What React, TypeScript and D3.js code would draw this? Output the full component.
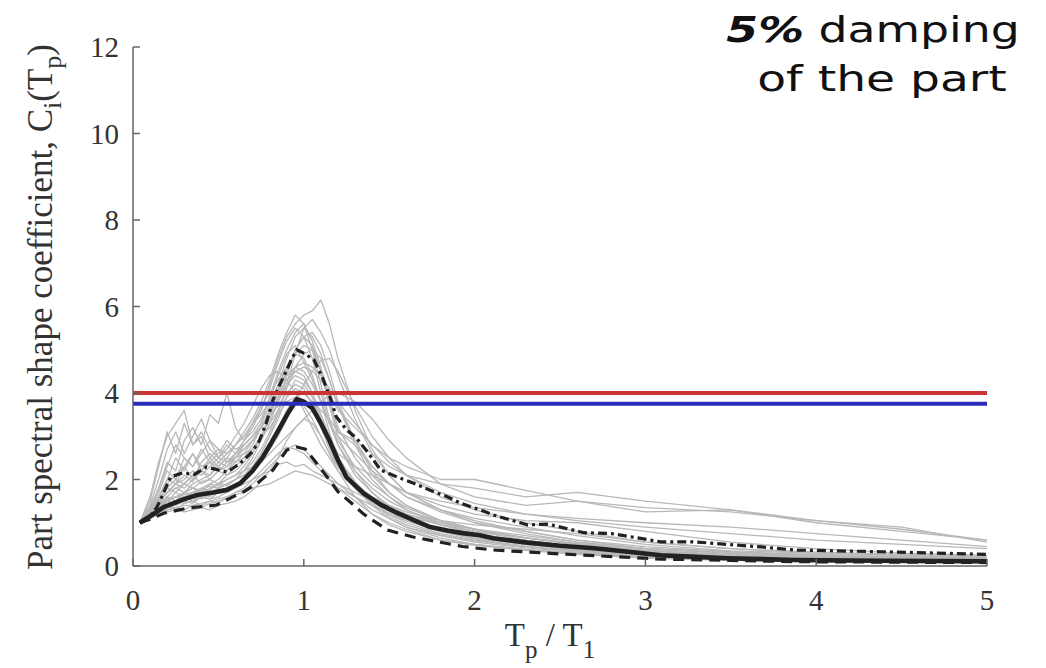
import React from "react";
import * as d3 from "d3";

// shared Tp/T1 grid for the individual records
const gridX = [0.04, 0.1, 0.15, 0.2, 0.25, 0.3, 0.35, 0.4, 0.45, 0.5, 0.55, 0.6, 0.65, 0.7, 0.75, 0.8, 0.85, 0.9, 0.95, 1.0, 1.05, 1.1, 1.15, 1.2, 1.3, 1.4, 1.5, 1.6, 1.8, 2.0, 2.3, 2.6, 3.0, 3.5, 4.0, 4.5, 5.0];

const records: number[][] = [
  [1.0,1.5,2.3,3.1,2.6,3.3,2.8,3.0,2.5,2.7,2.4,2.6,2.9,3.2,3.6,4.1,4.7,5.2,5.5,5.3,4.8,4.0,3.3,2.8,2.2,1.8,1.5,1.3,1.0,0.8,0.6,0.45,0.3,0.22,0.17,0.14,0.12],
  [1.0,1.2,1.5,1.7,1.9,1.8,2.0,2.2,2.1,2.4,2.3,2.6,2.9,3.3,3.6,4.2,4.8,5.3,5.6,5.8,5.9,6.15,5.6,4.8,3.6,2.7,2.1,1.7,1.3,1.0,0.75,0.55,0.4,0.3,0.22,0.18,0.15],
  [1.0,1.2,1.3,1.4,1.5,1.45,1.5,1.6,1.55,1.6,1.7,1.8,1.9,2.0,2.1,2.2,2.35,2.4,2.3,2.35,2.2,2.1,2.0,1.9,1.7,1.5,1.35,1.2,1.0,0.85,0.7,0.55,0.4,0.3,0.25,0.2,0.18],
  [1.0,1.3,1.8,2.4,2.2,2.9,3.2,2.8,3.5,3.3,4.0,3.2,2.9,3.1,3.4,3.8,4.4,4.9,5.1,4.7,4.3,3.8,3.3,3.0,2.6,2.2,1.9,1.6,1.3,1.1,0.9,0.7,0.5,0.35,0.3,0.25,0.2],
  [1.0,1.2,1.4,1.6,1.5,1.7,1.8,1.7,1.9,2.0,2.2,2.4,2.5,2.7,2.9,3.3,3.6,3.9,4.1,4.0,3.8,3.6,3.4,3.1,2.9,2.6,2.3,2.1,1.9,1.8,1.6,1.7,1.5,1.3,1.0,0.8,0.6],
  [1.0,1.3,1.6,2.0,2.5,2.2,2.6,2.3,2.4,2.2,2.3,2.5,2.8,3.0,3.3,3.9,4.5,5.0,5.4,5.6,5.2,4.6,3.9,3.2,2.5,2.0,1.6,1.3,0.95,0.75,0.55,0.4,0.28,0.2,0.15,0.12,0.1],
  [1.0,1.1,1.25,1.3,1.35,1.3,1.4,1.35,1.45,1.5,1.55,1.7,1.8,2.0,2.2,2.4,2.6,2.75,2.7,2.6,2.4,2.2,2.0,1.8,1.5,1.2,1.0,0.85,0.6,0.5,0.38,0.3,0.2,0.15,0.12,0.1,0.08],
  [1.0,1.4,2.0,2.7,3.1,2.6,3.0,3.4,2.9,2.7,2.6,2.8,3.0,3.3,3.7,4.0,4.3,4.6,4.9,5.1,5.0,4.5,3.8,3.1,2.8,2.3,1.9,1.7,1.4,1.2,1.05,1.0,0.8,0.55,0.4,0.3,0.25],
  [1.0,1.2,1.4,1.5,1.7,1.6,1.7,1.8,1.75,1.9,2.0,2.1,2.3,2.6,3.0,3.5,4.1,4.6,4.9,4.8,4.4,3.8,3.1,2.5,1.9,1.5,1.2,1.0,0.75,0.6,0.45,0.35,0.25,0.18,0.14,0.12,0.1],
  [1.0,1.25,1.5,1.8,1.7,1.9,2.1,1.9,2.0,2.2,2.1,2.3,2.5,2.8,3.2,3.6,4.0,4.5,5.0,5.3,5.4,5.1,4.5,3.8,2.9,2.2,1.7,1.4,1.05,0.85,0.65,0.5,0.35,0.25,0.2,0.16,0.13],
  [1.0,1.1,1.3,1.5,1.4,1.6,1.5,1.7,1.6,1.8,1.9,2.0,2.1,2.3,2.6,3.0,3.5,4.2,4.9,5.5,5.7,5.4,5.0,4.4,3.4,2.6,2.1,1.7,1.3,1.05,0.8,0.6,0.4,0.3,0.22,0.18,0.15],
  [1.0,1.6,2.4,3.0,3.3,3.6,2.8,3.1,2.7,2.5,2.8,2.6,2.7,2.9,3.2,3.5,3.9,4.2,4.4,4.3,4.0,3.5,3.0,2.6,2.3,2.1,1.9,1.7,1.5,1.35,1.2,1.1,1.0,0.9,0.75,0.6,0.45],
  [1.0,1.15,1.3,1.4,1.3,1.45,1.5,1.4,1.5,1.45,1.6,1.7,1.75,1.9,2.1,2.3,2.5,2.7,2.8,2.7,2.5,2.3,2.1,1.9,1.6,1.3,1.1,0.9,0.7,0.55,0.42,0.32,0.22,0.16,0.13,0.1,0.08],
  [1.0,1.3,1.7,2.2,2.0,2.5,2.3,2.7,2.4,2.6,2.9,2.7,2.8,3.0,3.3,3.7,4.2,4.8,5.3,5.5,5.3,4.9,4.3,3.7,2.9,2.3,1.9,1.6,1.25,1.0,0.8,0.6,0.45,0.33,0.26,0.2,0.17],
  [1.0,1.2,1.5,1.7,1.9,2.0,2.2,2.1,2.3,2.5,2.7,3.0,3.3,3.7,4.1,4.4,4.5,4.3,4.0,3.6,3.2,2.8,2.5,2.2,1.8,1.5,1.3,1.1,0.85,0.7,0.55,0.45,0.32,0.24,0.18,0.15,0.12],
  [1.0,1.15,1.3,1.5,1.6,1.7,1.65,1.8,1.9,1.85,2.0,2.1,2.2,2.3,2.4,2.6,2.8,3.0,3.2,3.4,3.6,3.8,3.95,4.0,3.8,3.4,2.9,2.5,1.9,1.6,1.4,1.5,1.25,1.3,1.05,0.9,0.55],
  [1.0,1.2,1.45,1.6,1.5,1.7,1.8,1.75,1.85,1.8,1.9,2.0,2.2,2.5,2.9,3.3,3.8,4.4,5.0,5.3,5.1,4.5,3.7,3.0,2.2,1.7,1.35,1.1,0.8,0.65,0.5,0.38,0.27,0.19,0.15,0.12,0.1],
  [1.0,1.3,1.6,1.9,2.1,2.3,2.0,2.4,2.6,2.4,2.6,2.8,3.1,3.4,3.8,4.3,4.9,5.4,5.8,5.6,5.0,4.2,3.4,2.8,2.1,1.7,1.4,1.2,0.95,0.8,0.65,0.5,0.36,0.26,0.2,0.16,0.13],
  [1.0,1.1,1.2,1.25,1.3,1.25,1.3,1.35,1.3,1.4,1.45,1.5,1.6,1.75,1.95,2.2,2.5,2.9,3.2,3.4,3.3,3.0,2.6,2.2,1.6,1.2,0.95,0.8,0.6,0.48,0.36,0.27,0.18,0.13,0.1,0.08,0.07],
  [1.0,1.2,1.4,1.6,1.8,1.7,1.9,2.0,2.1,2.3,2.2,2.5,2.7,2.9,3.2,3.6,4.0,4.3,4.5,4.6,4.5,4.3,4.0,3.6,3.2,2.8,2.5,2.3,2.0,2.0,1.75,1.5,1.35,1.25,1.05,0.85,0.6],
  [1.0,1.35,1.8,2.3,2.8,2.5,2.3,2.6,2.9,2.5,2.4,2.6,2.8,3.0,3.2,3.5,3.9,4.3,4.6,4.5,4.2,3.8,3.3,2.9,2.3,1.9,1.6,1.35,1.05,0.85,0.65,0.5,0.36,0.26,0.2,0.16,0.14],
  [1.0,1.15,1.35,1.5,1.6,1.55,1.7,1.65,1.8,1.9,1.85,2.0,2.2,2.4,2.7,3.1,3.6,4.1,4.6,4.9,5.0,4.8,4.3,3.7,2.8,2.1,1.7,1.4,1.05,0.85,0.65,0.5,0.35,0.25,0.2,0.16,0.13],
  [1.0,1.25,1.6,2.0,1.9,2.3,2.6,2.2,2.5,2.3,2.5,2.4,2.6,2.7,3.0,3.2,3.5,3.8,3.9,3.7,3.4,3.0,2.6,2.3,1.9,1.6,1.4,1.25,1.05,0.95,0.85,0.75,0.55,0.4,0.32,0.27,0.22],
  [1.0,1.1,1.2,1.3,1.35,1.4,1.4,1.45,1.5,1.55,1.6,1.65,1.7,1.8,1.85,1.9,2.0,2.1,2.2,2.15,2.1,2.0,1.9,1.8,1.6,1.4,1.2,1.05,0.8,0.62,0.46,0.35,0.24,0.17,0.13,0.1,0.08],
  [1.0,1.2,1.4,1.55,1.6,1.65,1.7,1.75,1.7,1.8,1.9,2.0,2.1,2.3,2.6,3.0,3.4,3.9,4.3,4.2,3.9,3.4,2.8,2.3,1.8,1.45,1.15,0.95,0.72,0.58,0.45,0.35,0.24,0.17,0.13,0.11,0.09],
  [1.0,1.25,1.5,1.7,1.8,1.9,1.8,1.95,2.0,1.9,2.1,2.2,2.4,2.7,3.0,3.4,3.8,4.2,4.5,4.4,4.0,3.5,3.0,2.5,1.95,1.55,1.25,1.05,0.8,0.65,0.5,0.38,0.27,0.2,0.16,0.13,0.11],
  [1.0,1.15,1.35,1.5,1.45,1.55,1.6,1.55,1.65,1.7,1.75,1.85,2.0,2.2,2.5,2.8,3.2,3.6,3.9,4.0,3.8,3.4,2.9,2.4,1.8,1.4,1.1,0.9,0.65,0.5,0.38,0.3,0.2,0.14,0.11,0.09,0.08],
  [1.0,1.3,1.55,1.8,2.0,1.9,2.1,2.2,2.0,2.2,2.4,2.5,2.6,2.9,3.2,3.5,3.7,4.0,4.2,4.1,3.7,3.2,2.7,2.3,1.8,1.5,1.3,1.15,0.95,0.8,0.65,0.52,0.4,0.32,0.26,0.22,0.18],
  [1.0,1.1,1.2,1.35,1.4,1.5,1.45,1.6,1.55,1.7,1.8,1.9,2.0,2.2,2.4,2.7,3.0,3.4,3.8,4.2,4.5,4.75,4.8,4.5,3.7,3.0,2.5,2.1,1.6,1.3,1.0,0.8,0.55,0.4,0.3,0.25,0.2],
  [1.0,1.2,1.45,1.7,1.9,2.1,1.95,2.2,2.4,2.3,2.5,2.8,3.0,3.3,3.5,3.8,4.1,4.4,4.6,4.7,4.6,4.4,4.1,3.8,3.3,2.8,2.4,2.1,1.7,1.45,1.2,1.05,0.9,0.75,0.6,0.5,0.4],
];

// median (solid thick)
const medianX = [0.04, 0.1, 0.18, 0.28, 0.375, 0.47, 0.55, 0.63, 0.7, 0.76, 0.81, 0.86, 0.91, 0.96, 1.0, 1.05, 1.1, 1.15, 1.2, 1.25, 1.35, 1.45, 1.55, 1.65, 1.74, 1.84, 1.93, 2.03, 2.11, 2.31, 2.5, 2.7, 2.9, 3.09, 3.3, 3.48, 3.87, 4.38, 5.0];
const medianY = [1.0, 1.15, 1.36, 1.52, 1.64, 1.7, 1.76, 1.92, 2.2, 2.52, 2.85, 3.2, 3.55, 3.86, 3.8, 3.65, 3.3, 2.9, 2.45, 2.05, 1.68, 1.42, 1.22, 1.05, 0.9, 0.82, 0.76, 0.71, 0.64, 0.54, 0.47, 0.41, 0.33, 0.25, 0.21, 0.18, 0.14, 0.12, 0.11];

// upper percentile (dash-dot)
const upperX = [0.04, 0.1, 0.14, 0.18, 0.22, 0.29, 0.36, 0.43, 0.5, 0.55, 0.6, 0.65, 0.7, 0.74, 0.78, 0.82, 0.86, 0.9, 0.93, 0.96, 1.01, 1.06, 1.11, 1.15, 1.19, 1.25, 1.31, 1.38, 1.45, 1.55, 1.64, 1.74, 1.84, 1.92, 2.03, 2.11, 2.31, 2.43, 2.64, 2.8, 3.09, 3.28, 3.68, 3.87, 4.38, 5.0];
const upperY = [1.0, 1.15, 1.36, 1.7, 2.06, 2.15, 2.12, 2.29, 2.22, 2.17, 2.3, 2.45, 2.65, 2.9, 3.3, 3.84, 4.2, 4.53, 4.8, 5.0, 4.9, 4.76, 4.35, 3.95, 3.45, 3.15, 2.95, 2.6, 2.22, 2.05, 1.92, 1.75, 1.6, 1.45, 1.3, 1.18, 0.95, 0.97, 0.77, 0.75, 0.56, 0.56, 0.44, 0.37, 0.33, 0.27];

// lower percentile (dashed)
const lowerX = [0.04, 0.1, 0.18, 0.32, 0.49, 0.57, 0.65, 0.73, 0.82, 0.9, 0.96, 1.01, 1.06, 1.15, 1.2, 1.28, 1.35, 1.49, 1.64, 1.8, 1.93, 2.11, 2.5, 3.09, 3.5, 3.87, 4.4, 5.0];
const lowerY = [1.0, 1.08, 1.22, 1.34, 1.41, 1.57, 1.72, 1.92, 2.22, 2.68, 2.75, 2.7, 2.45, 1.99, 1.72, 1.45, 1.2, 0.83, 0.67, 0.55, 0.45, 0.37, 0.28, 0.16, 0.13, 0.1, 0.09, 0.08];

// code-prescribed constant coefficients
const redLevel = 4.0;
const blueLevel = 3.75;

const xTicks = [0, 1, 2, 3, 4, 5];
const yTicks = [0, 2, 4, 6, 8, 10, 12];

export default function App() {
  const W = 1046, H = 668;
  const x = d3.scaleLinear().domain([0, 5]).range([133, 987]);
  const y = d3.scaleLinear().domain([0, 12]).range([566, 47]);
  const line = d3.line<[number, number]>().x(d => x(d[0])).y(d => y(d[1]));
  const zip = (xs: number[], ys: number[]) => xs.map((v, i) => [v, ys[i]] as [number, number]);
  const serif = "'Liberation Serif', 'Times New Roman', serif";
  const sans = "'DejaVu Sans', sans-serif";
  const axisColor = "#666";
  const textColor = "#333";

  return (
    <svg width={W} height={H} style={{ position: "absolute", left: 0, top: 0, background: "#fff" }}>
      {/* gray records */}
      <g fill="none" stroke="#b8b8b8" strokeWidth={1.3} strokeLinejoin="round">
        {records.map((r, i) => (
          <path key={i} d={line(zip(gridX, r)) || ""} />
        ))}
      </g>
      {/* statistics */}
      <path d={line(zip(upperX, upperY)) || ""} fill="none" stroke="#222" strokeWidth={3.2} strokeDasharray="9,4,3,4" />
      <path d={line(zip(lowerX, lowerY)) || ""} fill="none" stroke="#222" strokeWidth={3.2} strokeDasharray="11,7" />
      <path d={line(zip(medianX, medianY)) || ""} fill="none" stroke="#222" strokeWidth={4.6} strokeLinejoin="round" />
      {/* horizontal levels */}
      <line x1={x(0)} x2={x(5)} y1={y(redLevel)} y2={y(redLevel)} stroke="#cc3333" strokeWidth={4} />
      <line x1={x(0)} x2={x(5)} y1={y(blueLevel)} y2={y(blueLevel)} stroke="#2b2bb8" strokeWidth={4} />

      {/* axes */}
      <line x1={x(0)} x2={x(5)} y1={y(0)} y2={y(0)} stroke={axisColor} strokeWidth={1.5} />
      <line x1={x(0)} x2={x(0)} y1={y(0)} y2={y(12)} stroke={axisColor} strokeWidth={1.5} />
      {yTicks.map(t => (
        <g key={"y" + t}>
          <line x1={x(0)} x2={x(0) + 7} y1={y(t)} y2={y(t)} stroke={axisColor} strokeWidth={1.5} />
          <text x={x(0) - 14} y={y(t)} dy="0.35em" textAnchor="end" fontFamily={serif} fontSize={29} fill={textColor}>{t}</text>
        </g>
      ))}
      {xTicks.map(t => (
        <g key={"x" + t}>
          <line x1={x(t)} x2={x(t)} y1={y(0)} y2={y(0) - 7} stroke={axisColor} strokeWidth={1.5} />
          <text x={x(t)} y={610} textAnchor="middle" fontFamily={serif} fontSize={29} fill={textColor}>{t}</text>
        </g>
      ))}

      {/* x label */}
      <text x={550} y={646} textAnchor="middle" fontFamily={serif} fontSize={33} fill={textColor}>
        T<tspan dy={12} fontSize={25}>p</tspan><tspan dy={-12}> / T</tspan><tspan dy={12} fontSize={25}>1</tspan>
      </text>

      {/* y label */}
      <text transform="translate(52,307) rotate(-90)" textAnchor="middle" fontFamily={serif} fontSize={35} fill={textColor}>
        Part spectral shape coefficient, C<tspan dy={9} fontSize={26}>i</tspan><tspan dy={-9}>(T</tspan><tspan dy={9} fontSize={26}>p</tspan><tspan dy={-9}>)</tspan>
      </text>

      {/* annotation */}
      <g transform="translate(873,42) scale(1.27,1)">
        <text x={0} y={0} textAnchor="middle" fontFamily={sans} fontSize={36} fill="#111">
          <tspan fontWeight="bold" fontStyle="italic">5%</tspan> damping
        </text>
      </g>
      <g transform="translate(882,91) scale(1.31,1)">
        <text x={0} y={0} textAnchor="middle" fontFamily={sans} fontSize={36} fill="#111">
          of the part
        </text>
      </g>
    </svg>
  );
}
